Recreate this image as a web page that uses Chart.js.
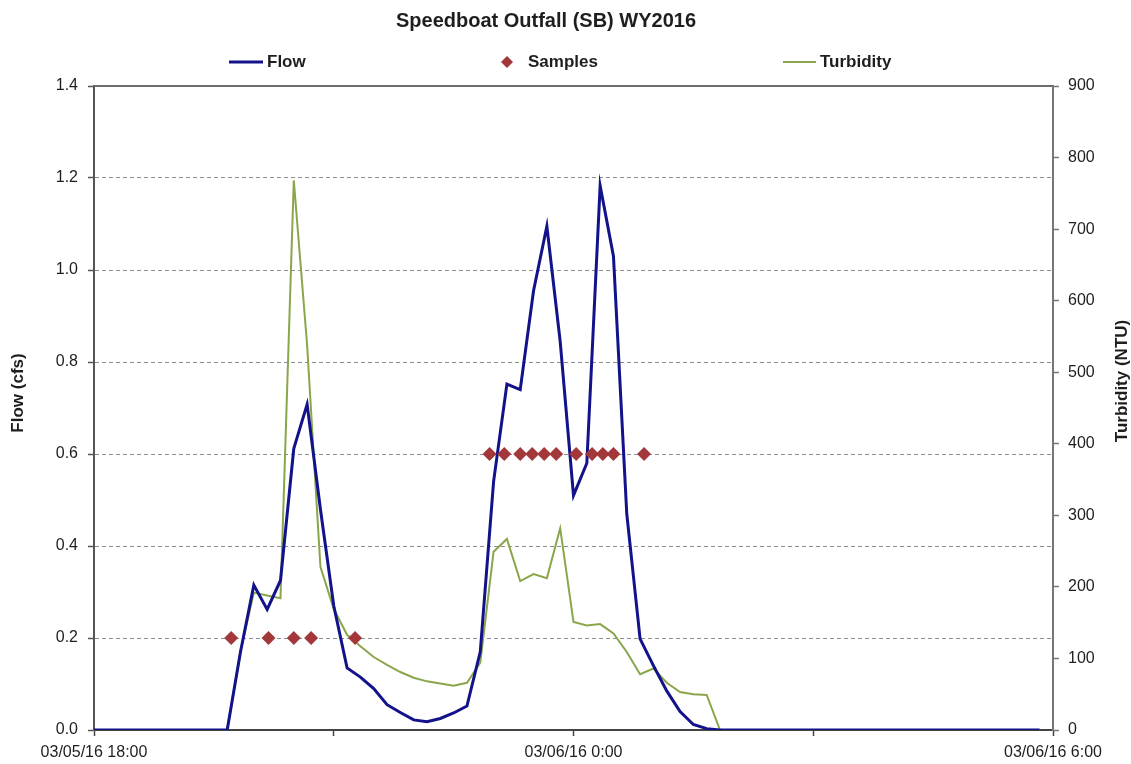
<!DOCTYPE html>
<html>
<head>
<meta charset="utf-8">
<script src="https://cdn.jsdelivr.net/npm/chart.js@4.4.1/dist/chart.umd.min.js"></script>
<style>
  html, body { margin: 0; padding: 0; background: #fff; }
  #wrap { width: 1131px; height: 764px; }
</style>
</head>
<body>
<div id="wrap"><canvas id="flowChart" width="1131" height="764"></canvas></div>
<script>
// minutes after 03/05/16 18:00, one reading every 10 minutes
const readingMinutes = [
  0, 10, 20, 30, 40, 50, 60, 70, 80, 90,
  100, 110, 120, 130, 140, 150, 160, 170, 180, 190,
  200, 210, 220, 230, 240, 250, 260, 270, 280, 290,
  300, 310, 320, 330, 340, 350, 360, 370, 380, 390,
  400, 410, 420, 430, 440, 450, 460, 470, 480, 490,
  500, 510, 520, 530, 540, 550, 560, 570, 580, 590,
  600, 610, 620, 630, 640, 650, 660, 670, 680, 690,
  700, 710
];

// flow in cfs
const flowCfs = [
  0, 0, 0, 0, 0, 0, 0, 0, 0, 0,
  0, 0.17, 0.315, 0.262, 0.325, 0.612, 0.708, 0.48, 0.27, 0.135,
  0.115, 0.09, 0.055, 0.038, 0.022, 0.018, 0.025, 0.037, 0.052, 0.17,
  0.54, 0.752, 0.74, 0.955, 1.095, 0.845, 0.51, 0.58, 1.183, 1.03,
  0.47, 0.198, 0.14, 0.085, 0.04, 0.012, 0.003, 0, 0, 0,
  0, 0, 0, 0, 0, 0, 0, 0, 0, 0,
  0, 0, 0, 0, 0, 0, 0, 0, 0, 0,
  0, 0
];

// turbidity in NTU
const turbidityNtu = [
  0, 0, 0, 0, 0, 0, 0, 0, 0, 0,
  0, 110, 192, 188, 184, 768, 538, 228, 169, 133,
  117, 102, 91, 81, 73, 68, 65, 62, 66, 94,
  249, 267, 208, 218, 212, 282, 151, 146, 148, 135,
  109, 78, 86, 66, 53, 50, 49, 0, 0, 0,
  0, 0, 0, 0, 0, 0, 0, 0, 0, 0,
  0, 0, 0, 0, 0, 0, 0, 0, 0, 0,
  0, 0
];

// sample collection times (minutes after 18:00) and the flow level they are plotted at
const sampleMinutes = [103, 131, 150, 163, 196, 297, 308, 320, 329, 338, 347, 362, 374, 382, 390, 413];
const sampleFlow = [0.2, 0.2, 0.2, 0.2, 0.2, 0.6, 0.6, 0.6, 0.6, 0.6, 0.6, 0.6, 0.6, 0.6, 0.6, 0.6];

const xTickLabels = { 0: '03/05/16 18:00', 360: '03/06/16 0:00', 720: '03/06/16 6:00' };

const FLOW_COLOR = '#12128a';
const TURB_COLOR = '#8aa64c';
const SAMPLE_COLOR = '#a3383a';
const TEXT_COLOR = '#1e1e1e';
const FONT = 'Liberation Sans, Arial, sans-serif';

const pairs = (xs, ys) => xs.map((x, i) => ({ x: x, y: ys[i] }));

// title, legend, axis titles and the top frame line
const decorations = {
  id: 'decorations',
  beforeDatasetsDraw(chart) {
    const { ctx, chartArea } = chart;
    ctx.save();
    ctx.strokeStyle = '#6e6e6e';
    ctx.lineWidth = 2;
    ctx.beginPath();
    ctx.moveTo(chartArea.left, chartArea.top);
    ctx.lineTo(chartArea.right, chartArea.top);
    ctx.stroke();
    ctx.restore();
  },
  afterDraw(chart) {
    const { ctx } = chart;
    ctx.save();
    ctx.fillStyle = TEXT_COLOR;
    ctx.textBaseline = 'middle';

    ctx.font = 'bold 20px ' + FONT;
    ctx.textAlign = 'center';
    ctx.fillText('Speedboat Outfall (SB) WY2016', 546, 21);

    // legend
    ctx.font = 'bold 17px ' + FONT;
    ctx.textAlign = 'left';
    ctx.lineWidth = 3;
    ctx.strokeStyle = FLOW_COLOR;
    ctx.beginPath(); ctx.moveTo(229, 62); ctx.lineTo(263, 62); ctx.stroke();
    ctx.fillText('Flow', 267, 62);

    ctx.fillStyle = SAMPLE_COLOR;
    ctx.beginPath();
    ctx.moveTo(501, 62); ctx.lineTo(507, 56); ctx.lineTo(513, 62); ctx.lineTo(507, 68);
    ctx.closePath(); ctx.fill();
    ctx.fillStyle = TEXT_COLOR;
    ctx.fillText('Samples', 528, 62);

    ctx.lineWidth = 2;
    ctx.strokeStyle = TURB_COLOR;
    ctx.beginPath(); ctx.moveTo(783, 62); ctx.lineTo(816, 62); ctx.stroke();
    ctx.fillText('Turbidity', 820, 62);

    // axis titles
    ctx.textAlign = 'center';
    ctx.save();
    ctx.translate(18, 393);
    ctx.rotate(-Math.PI / 2);
    ctx.fillText('Flow (cfs)', 0, 0);
    ctx.restore();
    ctx.save();
    ctx.translate(1122, 381);
    ctx.rotate(-Math.PI / 2);
    ctx.fillText('Turbidity (NTU)', 0, 0);
    ctx.restore();

    ctx.restore();
  }
};

const config = {
  type: 'line',
  data: {
    datasets: [
      {
        label: 'Samples',
        data: pairs(sampleMinutes, sampleFlow),
        yAxisID: 'y',
        showLine: false,
        pointStyle: 'rectRot',
        pointRadius: 7,
        pointBackgroundColor: SAMPLE_COLOR,
        pointBorderColor: SAMPLE_COLOR,
        pointBorderWidth: 0,
        order: 0
      },
      {
        label: 'Flow',
        data: pairs(readingMinutes, flowCfs),
        yAxisID: 'y',
        borderColor: FLOW_COLOR,
        borderWidth: 3,
        pointRadius: 0,
        tension: 0,
        order: 1
      },
      {
        label: 'Turbidity',
        data: pairs(readingMinutes, turbidityNtu),
        yAxisID: 'y1',
        borderColor: TURB_COLOR,
        borderWidth: 2,
        pointRadius: 0,
        tension: 0,
        order: 2
      }
    ]
  },
  options: {
    responsive: false,
    animation: false,
    events: [],
    layout: { padding: { top: 86, left: 0, right: 0, bottom: 0 } },
    plugins: {
      legend: { display: false },
      title: { display: false },
      tooltip: { enabled: false }
    },
    scales: {
      x: {
        type: 'linear',
        min: 0,
        max: 720,
        afterFit(scale) { scale.height = 34; },
        afterBuildTicks(scale) {
          scale.ticks = [0, 180, 360, 540, 720].map(v => ({ value: v }));
        },
        ticks: {
          autoSkip: false,
          maxRotation: 0,
          padding: 7,
          color: TEXT_COLOR,
          font: { family: FONT, size: 16 },
          callback: v => xTickLabels[v] || ''
        },
        grid: { drawOnChartArea: false, tickLength: 6, tickColor: '#444', tickWidth: 1.5 },
        border: { color: '#444', width: 2 }
      },
      y: {
        position: 'left',
        min: 0,
        max: 1.4,
        afterFit(scale) { scale.width = 94; },
        ticks: {
          stepSize: 0.2,
          padding: 10,
          color: TEXT_COLOR,
          font: { family: FONT, size: 16 },
          callback: v => v.toFixed(1)
        },
        grid: { color: '#8e8e8e', lineWidth: 1, tickLength: 6, tickColor: '#555', tickWidth: 1.5 },
        border: { color: '#555', width: 2, dash: [4, 3] }
      },
      y1: {
        position: 'right',
        min: 0,
        max: 900,
        afterFit(scale) { scale.width = 78; },
        ticks: {
          stepSize: 100,
          padding: 9,
          color: TEXT_COLOR,
          font: { family: FONT, size: 16 }
        },
        grid: { drawOnChartArea: false, tickLength: 6, tickColor: '#777', tickWidth: 1.5 },
        border: { color: '#777', width: 2 }
      }
    }
  },
  plugins: [decorations]
};

const ctx = document.getElementById('flowChart').getContext('2d');
const flowChart = new Chart(ctx, config);
</script>
</body>
</html>
